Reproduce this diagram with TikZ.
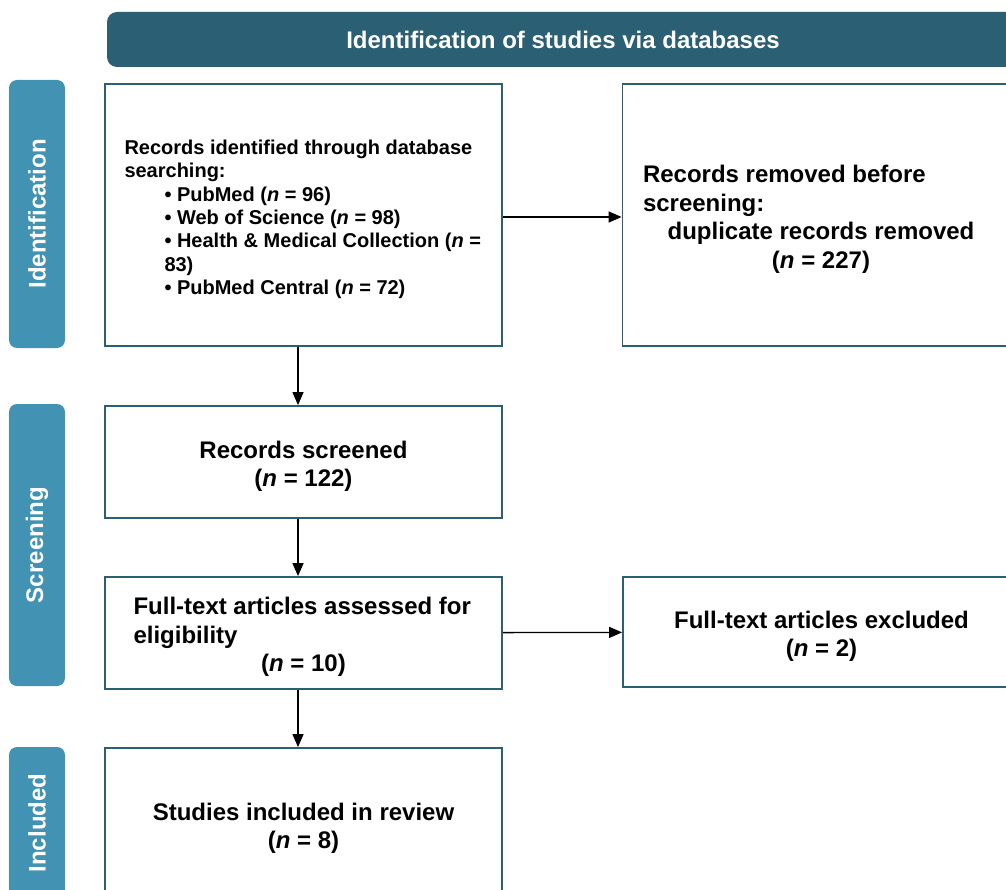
\documentclass[tikz,border=0pt]{standalone}
\usepackage{fontspec}
\setmainfont{Liberation Sans}
\usetikzlibrary{arrows.meta}
\definecolor{bannerteal}{HTML}{2B5F73}
\definecolor{tabblue}{HTML}{4292B4}

\begin{document}
\begin{tikzpicture}[x=1pt,y=-1pt,
	boxnode/.style={draw=bannerteal,line width=1.8pt,fill=white,minimum width=397pt,inner sep=0pt,
		font=\fontsize{24}{28.5}\selectfont\bfseries},
	wrapbox/.style={boxnode,align=flush left,text height=25.5pt},
	midbox/.style={wrapbox,text width=380pt,align=flush center},
	tabnode/.style={fill=tabblue,rounded corners=8pt,rotate=90,minimum height=56pt,inner sep=0pt,
		text=white,font=\fontsize{24}{29}\selectfont\bfseries},
	flow/.style={-{Triangle[length=13pt,width=11pt]},line width=1.3pt}]
	\def\ind{\hspace*{40pt}}  % sangria de las vinetas
	\useasboundingbox (0,0) rectangle (1006,890);
	\clip (0,0) rectangle (1006,890);

	% cabecera
	\node[fill=bannerteal,rounded corners=10pt,minimum width=912pt,minimum height=55pt,
		text=white,font=\fontsize{24}{29}\selectfont\bfseries] (banner) at (563,39.5)
		{Identification of studies via databases};

	% pestanas laterales
	\node[tabnode,minimum width=268pt] (tabid)   at (37,214) {Identification};
	\node[tabnode,minimum width=282pt] (tabscr)  at (37,545) {Screening};
	\node[tabnode,minimum width=152pt] (tabincl) at (37,823) {Included};

	% cajas
	\node[wrapbox,minimum height=262pt,text width=358pt,text height=23pt,
		font=\fontsize{20}{23.3}\selectfont\bfseries] (found) at (303.5,215)
		{Records identified through database\\
		 searching:\\
		 \ind• PubMed (\textit{n} = 96)\\
		 \ind• Web of Science (\textit{n} = 98)\\
		 \ind• Health \& Medical Collection (\textit{n} =\\
		 \ind83)\\
		 \ind• PubMed Central (\textit{n} = 72)};
	\node[wrapbox,minimum height=262pt,text width=356pt] (dupl) at (821,215)
		{Records removed before\\
		 screening:\\
		 \makebox[\linewidth]{duplicate records removed}\\
		 \makebox[\linewidth]{(\textit{n} = 227)}};
	\node[midbox,minimum height=112pt] (screened) at (303.5,462)
		{Records screened\\(\textit{n} = 122)};
	\node[wrapbox,minimum height=112pt,text width=340pt] (fulltext) at (303.5,633)
		{Full-text articles assessed for\\
		 eligibility\\
		 \makebox[\linewidth]{(\textit{n} = 10)}};
	\node[midbox,minimum height=110pt] (excluded) at (821.5,632)
		{Full-text articles excluded\\(\textit{n} = 2)};
	\node[midbox,minimum height=152pt] (included) at (303.5,824)
		{Studies included in review\\(\textit{n} = 8)};

	% flechas
	\draw[flow] ([yshift=-2pt]found.east) -- ([yshift=-2pt]dupl.west);
	\draw[flow] ([xshift=-5.5pt]found.south) -- ([xshift=-5.5pt]screened.north);
	\draw[flow] ([xshift=-5.5pt]screened.south) -- ([xshift=-5.5pt]fulltext.north);
	\draw[flow] (fulltext) -- (excluded);
	\draw[flow] ([xshift=-5.5pt]fulltext.south) -- ([xshift=-5.5pt]included.north);
\end{tikzpicture}
\end{document}
